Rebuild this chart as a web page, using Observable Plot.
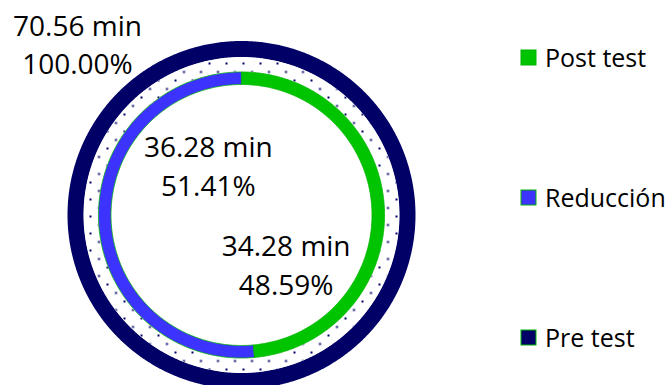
<!DOCTYPE html>
<html><head><meta charset="utf-8">
<script src="https://cdn.jsdelivr.net/npm/d3@7"></script>
<script src="https://cdn.jsdelivr.net/npm/@observablehq/plot@0.6"></script>
<style>
body{margin:0;background:#fff}
#wrap{position:relative;width:669px;height:385px;overflow:hidden;background:#fff}
#legend{position:absolute;left:521px;top:40px}
.lg-swatch{height:34px;line-height:34px;margin-bottom:106px;padding-bottom:0}
.lg-swatch>svg{margin-right:9px}
.lg-swatch rect{stroke:#00b400;stroke-width:1}
</style></head><body><div id="wrap"><div id="chart"></div><div id="legend"></div></div>
<script>
// ---- data ----
const series = ["Post test", "Reducción", "Pre test"];
const minutes = [34.28, 36.28, 70.56];
const percents = [48.59, 51.41, 100.00];
const ring = ["inner", "inner", "outer"];
const palette = ["#00c400", "#3d33ff", "#000066"];

// ---- layout (units of outer radius) ----
const R = 174, cx = 241, cy = 214.5;
const radii = {inner: [0.750, 0.822], gap: [0.825, 0.906], outer: [0.908, 1.0]};

function arcPoly(name, a0, a1, r0, r1) {
  const n = Math.max(4, Math.ceil((a1 - a0) * 720));
  const pts = [];
  for (let i = 0; i <= n; i++) {
    const a = 2 * Math.PI * (a0 + (a1 - a0) * i / n);
    pts.push({series: name, x: r1 * Math.sin(a), y: r1 * Math.cos(a)});
  }
  for (let i = n; i >= 0; i--) {
    const a = 2 * Math.PI * (a0 + (a1 - a0) * i / n);
    pts.push({series: name, x: r0 * Math.sin(a), y: r0 * Math.cos(a)});
  }
  return pts;
}

const slices = [];
const cum = {inner: 0, outer: 0};
series.forEach((s, i) => {
  const rg = ring[i];
  const a0 = cum[rg] / 100, a1 = (cum[rg] + percents[i]) / 100;
  cum[rg] += percents[i];
  slices.push({series: s, ring: rg, a0, a1, minutes: minutes[i], pct: percents[i]});
});

const innerPts = slices.filter(d => d.ring === "inner").flatMap(d => arcPoly(d.series, d.a0, d.a1, ...radii.inner));
const outerPts = slices.filter(d => d.ring === "outer").flatMap(d => arcPoly(d.series, d.a0, d.a1, ...radii.outer));
const gapPts = arcPoly("gap", 0, 1, ...radii.gap);

function labelOf(d) {
  const rm = (radii[d.ring][0] + radii[d.ring][1]) / 2;
  const a = 2 * Math.PI * (d.a0 + d.a1) / 2;
  return {text: `${d.minutes.toFixed(2)} min\n${d.pct.toFixed(2)}%`, x: rm * Math.sin(a), y: rm * Math.cos(a)};
}
const labPost = labelOf(slices[0]);
const labRed = labelOf(slices[1]);
const labPre = labelOf(slices[2]);

const textStyle = {fontFamily: "'Open Sans'", fontSize: 28, lineHeight: 1.375, textAnchor: "middle", lineAnchor: "middle", fill: "#000"};

const chart = Plot.plot({
  width: 669, height: 385,
  margin: 0,
  x: {domain: [-1, 1], range: [cx - R, cx + R], axis: null},
  y: {domain: [-1, 1], range: [cy + R, cy - R], axis: null},
  color: {domain: series, range: palette},
  style: {background: "#fff", overflow: "visible"},
  marks: [
    Plot.line(outerPts, {x: "x", y: "y", z: "series", fill: "series", stroke: "none", curve: "linear-closed"}),
    Plot.line(gapPts, {x: "x", y: "y", fill: "url(#dots)", stroke: "none", curve: "linear-closed"}),
    Plot.line(innerPts, {x: "x", y: "y", z: "series", fill: "series", stroke: "#00b400", strokeWidth: 0.8, curve: "linear-closed"}),
    Plot.text([labPost], {x: "x", y: "y", text: "text", dx: -92, dy: 54, ...textStyle}),
    Plot.text([labRed], {x: "x", y: "y", text: "text", dx: 103.5, dy: -57, ...textStyle}),
    Plot.text([labPre], {text: "text", frameAnchor: "top-left", dx: 77, dy: 42, ...textStyle})
  ]
});

// dotted pattern for the gap ring
const defs = d3.select(chart).insert("defs", ":first-child");
const pat = defs.append("pattern").attr("id", "dots").attr("patternUnits", "userSpaceOnUse")
  .attr("width", 17).attr("height", 17);
pat.append("rect").attr("width", 17).attr("height", 17).attr("fill", "#fff");
pat.append("rect").attr("x", 4).attr("y", 11).attr("width", 2).attr("height", 2).attr("fill", "#000066");
pat.append("rect").attr("x", 12.5).attr("y", 2.5).attr("width", 2).attr("height", 2).attr("fill", "#000066");

document.getElementById("chart").appendChild(chart);

const legend = chart.legend("color", {
  legend: "swatches", columns: 1, swatchSize: 15, className: "lg",
  style: {fontFamily: "'Open Sans'", fontSize: "25px", color: "#000", margin: "0"}
});
document.getElementById("legend").appendChild(legend);
</script>
</body></html>
